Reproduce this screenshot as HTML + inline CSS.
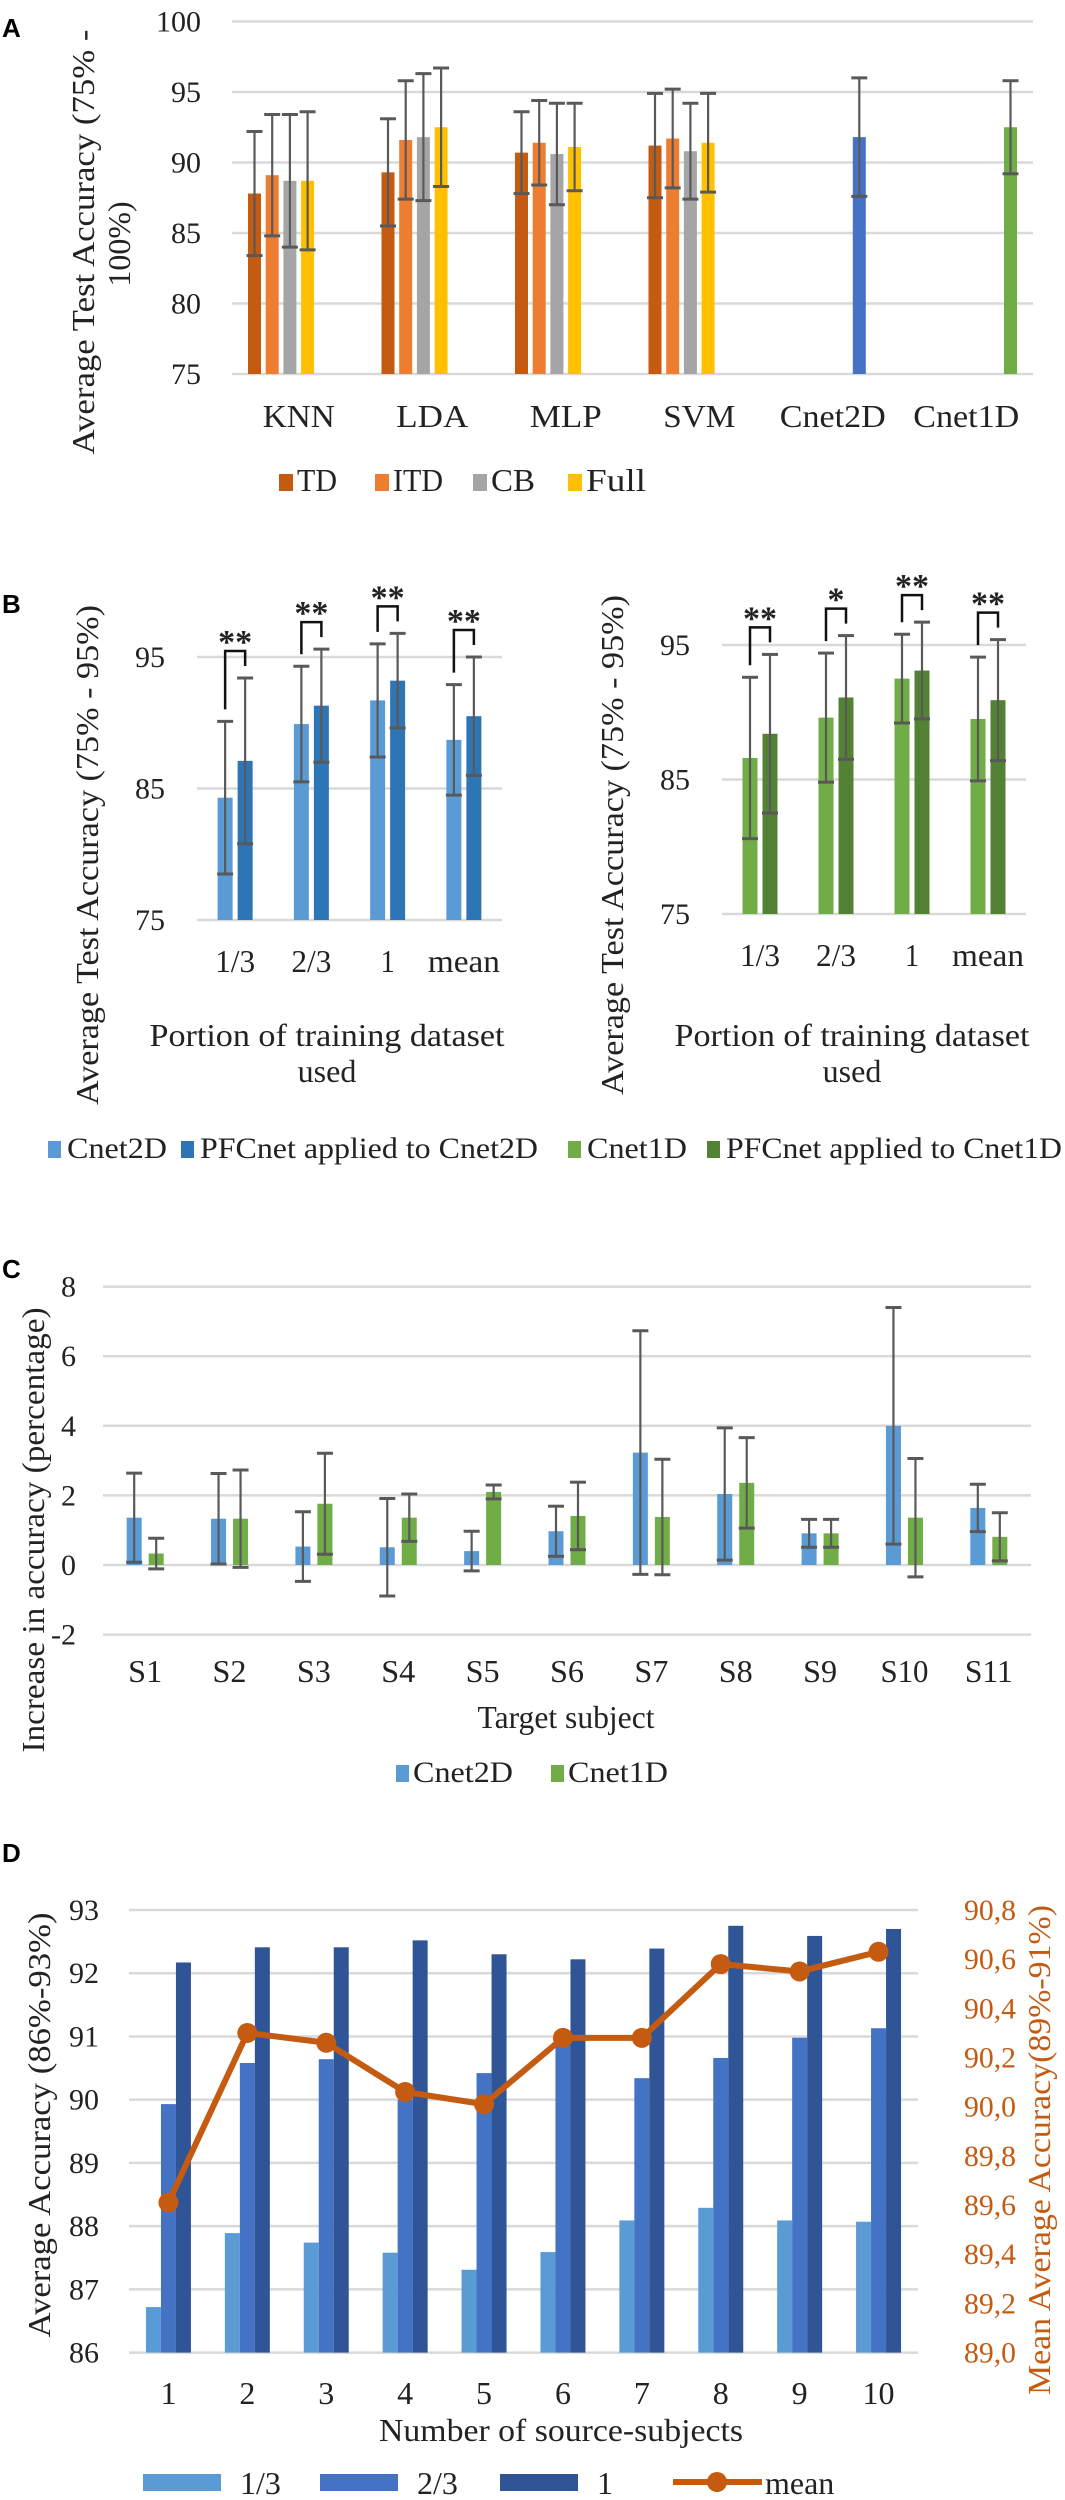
<!DOCTYPE html>
<html><head><meta charset="utf-8"><title>Figure</title>
<style>
html,body{margin:0;padding:0;background:#fff;}
svg{display:block;}
text{font-family:"Liberation Serif",serif;fill:#222;}
.lbl{font-family:"Liberation Sans",sans-serif;font-weight:bold;fill:#000;}
</style></head>
<body>
<svg id="fig" xmlns="http://www.w3.org/2000/svg" width="1065" height="2500" viewBox="0 0 1065 2500">
<text class="lbl" x="2" y="37" font-size="26">A</text>
<text class="lbl" x="2" y="613" font-size="26">B</text>
<text class="lbl" x="2" y="1278" font-size="26">C</text>
<text class="lbl" x="2" y="1862" font-size="26">D</text>
</svg>
<script>
// ===== Panel A data =====
const aCategories = ["KNN","LDA","MLP","SVM","Cnet2D","Cnet1D"];
const aSeries = ["TD","ITD","CB","Full","Cnet2D","Cnet1D"];
const aTD   = [87.8, 89.3, 90.7, 91.2, null, null];
const aTDe  = [4.4, 3.8, 2.9, 3.7, null, null];
const aITD  = [89.1, 91.6, 91.4, 91.7, null, null];
const aITDe = [4.3, 4.2, 3.0, 3.5, null, null];
const aCB   = [88.7, 91.8, 90.6, 90.8, null, null];
const aCBe  = [4.7, 4.5, 3.6, 3.4, null, null];
const aFull = [88.7, 92.5, 91.1, 91.4, null, null];
const aFulle= [4.9, 4.2, 3.1, 3.5, null, null];
const aC2D  = [null, null, null, null, 91.8, null];
const aC2De = [null, null, null, null, 4.2, null];
const aC1D  = [null, null, null, null, null, 92.5];
const aC1De = [null, null, null, null, null, 3.3];
const aTicks = [75, 80, 85, 90, 95, 100];
// ===== Panel B data =====
const bCategories = ["1/3","2/3","1","mean"];
const bCnet2D = [84.3, 89.9, 91.7, 88.7];
const bCnet2De = [5.8, 4.4, 4.3, 4.2];
const bPF2D = [87.1, 91.3, 93.2, 90.5];
const bPF2De = [6.3, 4.3, 3.6, 4.5];
const bCnet1D = [86.6, 89.6, 92.5, 89.5];
const bCnet1De = [6.0, 4.8, 3.3, 4.6];
const bPF1D = [88.4, 91.1, 93.1, 90.9];
const bPF1De = [5.9, 4.6, 3.6, 4.5];
const bStarsLeft = ["**","**","**","**"];
const bStarsRight = ["**","*","**","**"];
const bTicks = [75, 85, 95];
// ===== Panel C data =====
const cCategories = ["S1","S2","S3","S4","S5","S6","S7","S8","S9","S10","S11"];
const cCnet2D  = [1.36, 1.33, 0.53, 0.51, 0.40, 0.97, 3.23, 2.04, 0.91, 4.00, 1.64];
const cCnet2De = [1.28, 1.30, 1.00, 1.40, 0.57, 0.72, 3.50, 1.90, 0.40, 3.40, 0.68];
const cCnet1D  = [0.33, 1.33, 1.76, 1.36, 2.10, 1.41, 1.38, 2.36, 0.91, 1.36, 0.81];
const cCnet1De = [0.44, 1.40, 1.45, 0.68, 0.20, 0.97, 1.66, 1.30, 0.40, 1.70, 0.69];
const cTicks = [-2, 0, 2, 4, 6, 8];
// ===== Panel D data =====
const dCategories = ["1","2","3","4","5","6","7","8","9","10"];
const dThird  = [86.72, 87.89, 87.74, 87.58, 87.31, 87.59, 88.09, 88.29, 88.09, 88.07];
const dTwo    = [89.93, 90.58, 90.64, 90.00, 90.42, 90.95, 90.34, 90.66, 90.98, 91.13];
const dOne    = [92.17, 92.41, 92.41, 92.52, 92.30, 92.22, 92.39, 92.75, 92.59, 92.70];
const dMean   = [89.61, 90.30, 90.26, 90.06, 90.01, 90.28, 90.28, 90.58, 90.55, 90.63];
const dTicksL = [86, 87, 88, 89, 90, 91, 92, 93];
const dTicksR = ["89,0","89,2","89,4","89,6","89,8","90,0","90,2","90,4","90,6","90,8"];

const svg = document.getElementById('fig');
const NS = "http://www.w3.org/2000/svg";
function mk(tag, attrs, parent){
  const e = document.createElementNS(NS, tag);
  for (const k in attrs) e.setAttribute(k, attrs[k]);
  (parent||svg).appendChild(e);
  return e;
}
function txt(str, attrs, parent){
  const e = mk('text', attrs, parent);
  e.textContent = str;
  return e;
}
const GRID = "#d9d9d9", ERR = "#595959";
function grid(x1, x2, y, name){
  const l = mk('line', {x1:x1, x2:x2, y1:y, y2:y, stroke:GRID, 'stroke-width':2.5});
  
  
}
function bar(cx, w, y0, y1, color, name){
  const r = mk('rect', {x:cx-w/2, y:Math.min(y0,y1), width:w, height:Math.abs(y1-y0), fill:color});
  
  
}
function errbar(cx, yt, yb, name){
  const g = mk('g', {stroke:ERR, 'stroke-width':2.2});
  
  
  mk('line', {x1:cx, x2:cx, y1:yt, y2:yb}, g);
  mk('line', {x1:cx-8, x2:cx+8, y1:yt, y2:yt, 'stroke-width':3}, g);
  mk('line', {x1:cx-8, x2:cx+8, y1:yb, y2:yb, 'stroke-width':3}, g);
}
function swatch(x, y, w, h, color, label, fs, name, tl){
  const r = mk('rect', {x:x, y:y, width:w, height:h, fill:color});
  
  
  const a = {x:x+w+4, y:y+h, 'font-size':fs};
  if (tl) { a.textLength = tl; a.lengthAdjust = 'spacingAndGlyphs'; }
  const t = txt(label, a);
  
  
}

// ===== Panel A =====
(function(){
  const x0 = 232, x1 = 1033, yTop = 21.5, yBot = 374;
  const y = v => yBot - (v - 75) * (yBot - yTop) / 25;
  const step = (x1 - x0) / aCategories.length, slot = 17.7;
  aTicks.forEach(t => {
    grid(x0, x1, y(t), 'a-gridline-' + t);
    const e = txt(String(t), {x:201, y:y(t)+10, 'font-size':30, 'text-anchor':'end'});
    
    
  });
  const vals = [aTD, aITD, aCB, aFull, aC2D, aC1D];
  const errs = [aTDe, aITDe, aCBe, aFulle, aC2De, aC1De];
  const cols = ["#c55a11","#ed7d31","#a5a5a5","#ffc000","#4472c4","#70ad47"];
  aCategories.forEach((c, i) => {
    const cx = x0 + step * (i + 0.5);
    vals.forEach((s, k) => {
      if (s[i] == null) return;
      const bx = cx + (k - 2.5) * slot;
      bar(bx, 13, y(75), y(s[i]), cols[k], 'a-bar-' + c.toLowerCase() + '-' + aSeries[k].toLowerCase());
      errbar(bx, y(s[i] + errs[k][i]), y(s[i] - errs[k][i]), 'a-error-bar-' + c.toLowerCase() + '-' + aSeries[k].toLowerCase());
    });
    const e = txt(c, {x:cx, y:427, 'font-size':32, 'text-anchor':'middle', textLength: c.length > 3 ? 106 : 72, lengthAdjust:'spacingAndGlyphs'});
    
    
  });
  const t1 = txt("Average Test Accuracy (75% -", {x:0, y:0, 'font-size':32, 'text-anchor':'middle', transform:'translate(94,242) rotate(-90)', textLength:425, lengthAdjust:'spacingAndGlyphs'});
  
  
  const t2 = txt("100%)", {x:0, y:0, 'font-size':32, 'text-anchor':'middle', transform:'translate(130,244) rotate(-90)'});
  
  
  const legs = [["TD",279,40],["ITD",375,50],["CB",473,44],["Full",568,60]];
  legs.forEach((l, k) => swatch(l[1], 474, 14, 17, cols[k], l[0], 32, 'a-legend-' + l[0].toLowerCase(), l[2]));
})();

// ===== Panel B =====
function panelB(x0, x1, y95, y75, cats, s1, e1, s2, e2, c1, c2, stars, side, tickX, tickY){
  const y = v => y75 - (v - 75) * (y75 - y95) / 20;
  const step = (x1 - x0) / cats.length;
  bTicks.forEach(t => {
    grid(x0, x1, y(t), 'b-' + side + '-gridline-' + t);
    const e = txt(String(t), {x:tickX, y:y(t)+10, 'font-size':30, 'text-anchor':'middle'});
    
    
  });
  cats.forEach((c, i) => {
    const cx = x0 + step * (i + 0.5);
    const xa = cx - 10, xb = cx + 10;
    bar(xa, 15, y(75), y(s1[i]), c1, 'b-' + side + '-bar-base-' + i);
    bar(xb, 15, y(75), y(s2[i]), c2, 'b-' + side + '-bar-pfcnet-' + i);
    const ta = y(s1[i] + e1[i]), tb = y(s2[i] + e2[i]);
    errbar(xa, ta, y(s1[i] - e1[i]), 'b-' + side + '-error-base-' + i);
    errbar(xb, tb, y(s2[i] - e2[i]), 'b-' + side + '-error-pfcnet-' + i);
    const top = Math.min(ta, tb) - 27;
    const br = mk('path', {d:`M${xa} ${ta-12} V${top} H${xb} V${tb-12}`, fill:'none', stroke:'#111', 'stroke-width':2.5});
    
    
    const st = txt(stars[i], {x:cx, y:top + 2, 'font-size':34, 'text-anchor':'middle', 'font-weight':'bold', 'font-family':'Liberation Sans, sans-serif'});
    
    
    const e = txt(c, {x:cx, y:tickY, 'font-size':32, 'text-anchor':'middle', textLength: c === 'mean' ? 72 : (c === '1' ? 14 : 40), lengthAdjust:'spacingAndGlyphs'});
    
    
  });
}
panelB(197, 502, 657, 920, bCategories, bCnet2D, bCnet2De, bPF2D, bPF2De, "#5b9bd5", "#2e75b6", bStarsLeft, 'left', 150, 972);
panelB(722, 1026, 645, 914, bCategories, bCnet1D, bCnet1De, bPF1D, bPF1De, "#70ad47", "#548235", bStarsRight, 'right', 675, 966);
(function(){
  [[88, 855, 'left'], [613, 845, 'right']].forEach(p => {
    const e = txt("Average Test Accuracy (75% - 95%)", {x:0, y:0, 'font-size':32, 'text-anchor':'middle', transform:`translate(${p[0]+10},${p[1]}) rotate(-90)`, textLength:500, lengthAdjust:'spacingAndGlyphs'});
    
    
  });
  [[327, 'left'], [852, 'right']].forEach(p => {
    const a = txt("Portion of training dataset", {x:p[0], y:1046, 'font-size':32, 'text-anchor':'middle', textLength:355, lengthAdjust:'spacingAndGlyphs'});
    
    
    const b = txt("used", {x:p[0], y:1082, 'font-size':32, 'text-anchor':'middle'});
    
    
  });
  const lg = [["Cnet2D",48,"#5b9bd5",100],["PFCnet applied to Cnet2D",181,"#2e75b6",338],["Cnet1D",568,"#70ad47",100],["PFCnet applied to Cnet1D",707,"#548235",336]];
  lg.forEach(l => {
    const r = mk('rect', {x:l[1], y:1141, width:13, height:17, fill:l[2]});
    
    
    const t = txt(l[0], {x:l[1]+19, y:1158, 'font-size':30, textLength:l[3], lengthAdjust:'spacingAndGlyphs'});
    
    
  });
})();

// ===== Panel C =====
(function(){
  const x0 = 103, x1 = 1031, y0 = 1565, ppu = 34.8;
  const y = v => y0 - v * ppu;
  const step = (x1 - x0) / cCategories.length;
  cTicks.forEach(t => {
    grid(x0, x1, y(t), 'c-gridline-' + t);
    const e = txt(String(t), {x:76, y:y(t)+10, 'font-size':30, 'text-anchor':'end'});
    
    
  });
  cCategories.forEach((c, i) => {
    const cx = x0 + step * (i + 0.5);
    const xa = cx - 11, xb = cx + 11;
    bar(xa, 15, y(0), y(cCnet2D[i]), "#5b9bd5", 'c-bar-cnet2d-' + c.toLowerCase());
    bar(xb, 15, y(0), y(cCnet1D[i]), "#70ad47", 'c-bar-cnet1d-' + c.toLowerCase());
    errbar(xa, y(cCnet2D[i] + cCnet2De[i]), y(cCnet2D[i] - cCnet2De[i]), 'c-error-cnet2d-' + c.toLowerCase());
    errbar(xb, y(cCnet1D[i] + cCnet1De[i]), y(cCnet1D[i] - cCnet1De[i]), 'c-error-cnet1d-' + c.toLowerCase());
    const e = txt(c, {x:cx, y:1682, 'font-size':32, 'text-anchor':'middle', textLength: c.length > 2 ? 48 : 34, lengthAdjust:'spacingAndGlyphs'});
    
    
  });
  const xt = txt("Target subject", {x:566, y:1728, 'font-size':32, 'text-anchor':'middle', textLength:177, lengthAdjust:'spacingAndGlyphs'});
  
  
  const yt = txt("Increase in accuracy (percentage)", {x:0, y:0, 'font-size':32, 'text-anchor':'middle', transform:'translate(44,1530) rotate(-90)', textLength:445, lengthAdjust:'spacingAndGlyphs'});
  
  
  swatch(396, 1765, 13, 17, "#5b9bd5", "Cnet2D", 30, 'c-legend-cnet2d', 100);
  swatch(551, 1765, 13, 17, "#70ad47", "Cnet1D", 30, 'c-legend-cnet1d', 100);
})();

// ===== Panel D =====
(function(){
  const x0 = 129, x1 = 918, yT = 1910, yB = 2352.6;
  const yL = v => yB - (v - 86) * (yB - yT) / 7;
  const yR = v => yB - (v - 89) * (yB - yT) / 1.8;
  const step = (x1 - x0) / dCategories.length;
  dTicksL.forEach(t => {
    grid(x0, x1, yL(t), 'd-gridline-' + t);
    const e = txt(String(t), {x:99, y:yL(t)+10, 'font-size':30, 'text-anchor':'end'});
    
    
  });
  dTicksR.forEach((t, k) => {
    const e = txt(t, {x:964, y:yR(89 + k * 0.2)+10, 'font-size':30, fill:'#c55a11', style:'fill:#c55a11', textLength:52, lengthAdjust:'spacingAndGlyphs'});
    
    
  });
  const pts = [];
  dCategories.forEach((c, i) => {
    const cx = x0 + step * (i + 0.5);
    bar(cx - 15, 15, yL(86), yL(dThird[i]), "#5b9bd5", 'd-bar-third-' + c);
    bar(cx, 15, yL(86), yL(dTwo[i]), "#4472c4", 'd-bar-two-thirds-' + c);
    bar(cx + 15, 15, yL(86), yL(dOne[i]), "#2f5597", 'd-bar-full-' + c);
    pts.push([cx, yR(dMean[i])]);
    const e = txt(c, {x:cx, y:2404, 'font-size':32, 'text-anchor':'middle'});
    
    
  });
  const pl = mk('polyline', {points:pts.map(p => p.join(',')).join(' '), fill:'none', stroke:'#c55a11', 'stroke-width':6, 'stroke-linejoin':'round'});
  
  
  pts.forEach((p, i) => {
    const m = mk('circle', {cx:p[0], cy:p[1], r:10, fill:'#c55a11'});
    
    
  });
  const xt = txt("Number of source-subjects", {x:561, y:2441, 'font-size':32, 'text-anchor':'middle', textLength:364, lengthAdjust:'spacingAndGlyphs'});
  
  
  const yt = txt("Average Accuracy (86%-93%)", {x:0, y:0, 'font-size':32, 'text-anchor':'middle', transform:'translate(50,2125) rotate(-90)', textLength:425, lengthAdjust:'spacingAndGlyphs'});
  
  
  const yr = txt("Mean Average Accuracy(89%-91%)", {x:0, y:0, 'font-size':32, 'text-anchor':'middle', fill:'#c55a11', style:'fill:#c55a11', transform:'translate(1050,2150) rotate(-90)', textLength:490, lengthAdjust:'spacingAndGlyphs'});
  
  
  const lg = [["1/3",143,"#5b9bd5"],["2/3",320,"#4472c4"],["1",500,"#2f5597"]];
  lg.forEach(l => {
    const r = mk('rect', {x:l[1], y:2474, width:78, height:17, fill:l[2]});
    
    
    const t = txt(l[0], {x:l[1]+97, y:2494, 'font-size':32});
    
    
  });
  const ll = mk('line', {x1:673, x2:762, y1:2482, y2:2482, stroke:'#c55a11', 'stroke-width':6});
  
  
  const lc = mk('circle', {cx:717, cy:2482, r:10, fill:'#c55a11'});
  
  
  const lt = txt("mean", {x:765, y:2494, 'font-size':32});
  
  
})();
</script>
</body></html>
